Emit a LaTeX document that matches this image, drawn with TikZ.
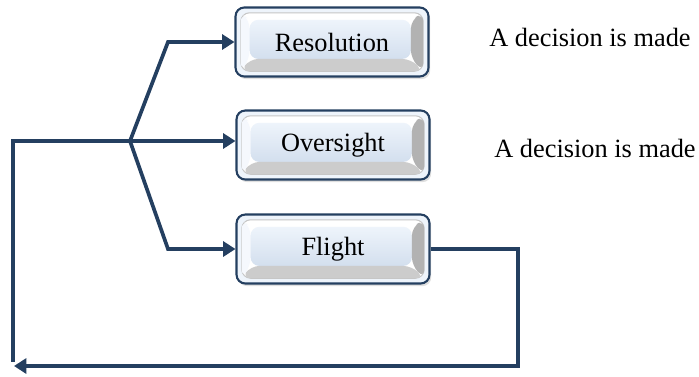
\documentclass[tikz,border=0pt]{standalone}
\usepackage{fontspec}
\setmainfont{Liberation Serif}
\usetikzlibrary{arrows.meta,shadows}
\definecolor{navy}{HTML}{243F60}
\definecolor{facetop}{HTML}{EEF4FB}
\definecolor{facebot}{HTML}{D3DFEE}
\begin{document}
\begin{tikzpicture}[x=0.02cm,y=-0.02cm]
\tikzstyle{every node}+=[font=\fontsize{15}{18}\selectfont]
\tikzstyle{link}=[navy, line width=2.1pt]
\tikzstyle{tip}=[-{Triangle[length=7pt,width=8.5pt]}]
\tikzstyle{note}=[inner sep=0pt, anchor=west]
\tikzstyle{panel}=[draw=navy, line width=1.2pt, rounded corners=5pt, fill=facetop,
  minimum width=3.86cm, minimum height=1.38cm,
  drop shadow={opacity=0.25,shadow xshift=1pt,shadow yshift=-1.5pt},
  path picture={
    \draw[gray!45, line width=0.6pt, fill=white] ([shift={(3pt,-3pt)}]path picture bounding box.north west) rectangle ([shift={(-3pt,3pt)}]path picture bounding box.south east);
    \shade[top color=facetop, bottom color=facebot] ([shift={(8pt,-7pt)}]path picture bounding box.north west) rectangle ([shift={(-10pt,10pt)}]path picture bounding box.south east);
    \fill[gray!60] ([shift={(-3pt,-3pt)}]path picture bounding box.north east) -- ([shift={(-10pt,-7pt)}]path picture bounding box.north east) -- ([shift={(-10pt,10pt)}]path picture bounding box.south east) -- ([shift={(-3pt,3pt)}]path picture bounding box.south east) -- cycle;
    \fill[gray!40] ([shift={(3pt,3pt)}]path picture bounding box.south west) -- ([shift={(8pt,10pt)}]path picture bounding box.south west) -- ([shift={(-10pt,10pt)}]path picture bounding box.south east) -- ([shift={(-3pt,3pt)}]path picture bounding box.south east) -- cycle;
    \fill[facetop!60!white] ([shift={(3pt,-3pt)}]path picture bounding box.north west) -- ([shift={(8pt,-7pt)}]path picture bounding box.north west) -- ([shift={(8pt,10pt)}]path picture bounding box.south west) -- ([shift={(3pt,3pt)}]path picture bounding box.south west) -- cycle;
  }]
\useasboundingbox (0,0) rectangle (699,376);

% boxes
\node[panel] (res) at (332,42) {Resolution};
\node[panel] (ovr) at (333,145) {Oversight};
\node[panel] (flt) at (333,249) {Flight};

% notes
\node[note] (resnote) at (489,37) {A decision is made};
\node[note] (ovrnote) at (494,148) {A decision is made};

% corners
\coordinate (fork) at (130,141);
\coordinate (resbend) at (168,42);
\coordinate (fltbend) at (168,249);
\coordinate (loopnw) at (13,141);
\coordinate (loopsw) at (13,362);
\coordinate (loopne) at (518,249);
\coordinate (loopse) at (518,366);
\coordinate (loopend) at (14,366);

% connectors
\draw[link,tip] (fork) -- (resbend) -- (res.west);
\draw[link,tip] (fork) -- (ovr.west |- fork);
\draw[link,tip] (fork) -- (fltbend) -- (flt.west);
\draw[link] (fork) -- (loopnw) -- (loopsw);
\draw[link,tip] (flt.east) -- (loopne) -- (loopse) -- (loopend);
\end{tikzpicture}
\end{document}
